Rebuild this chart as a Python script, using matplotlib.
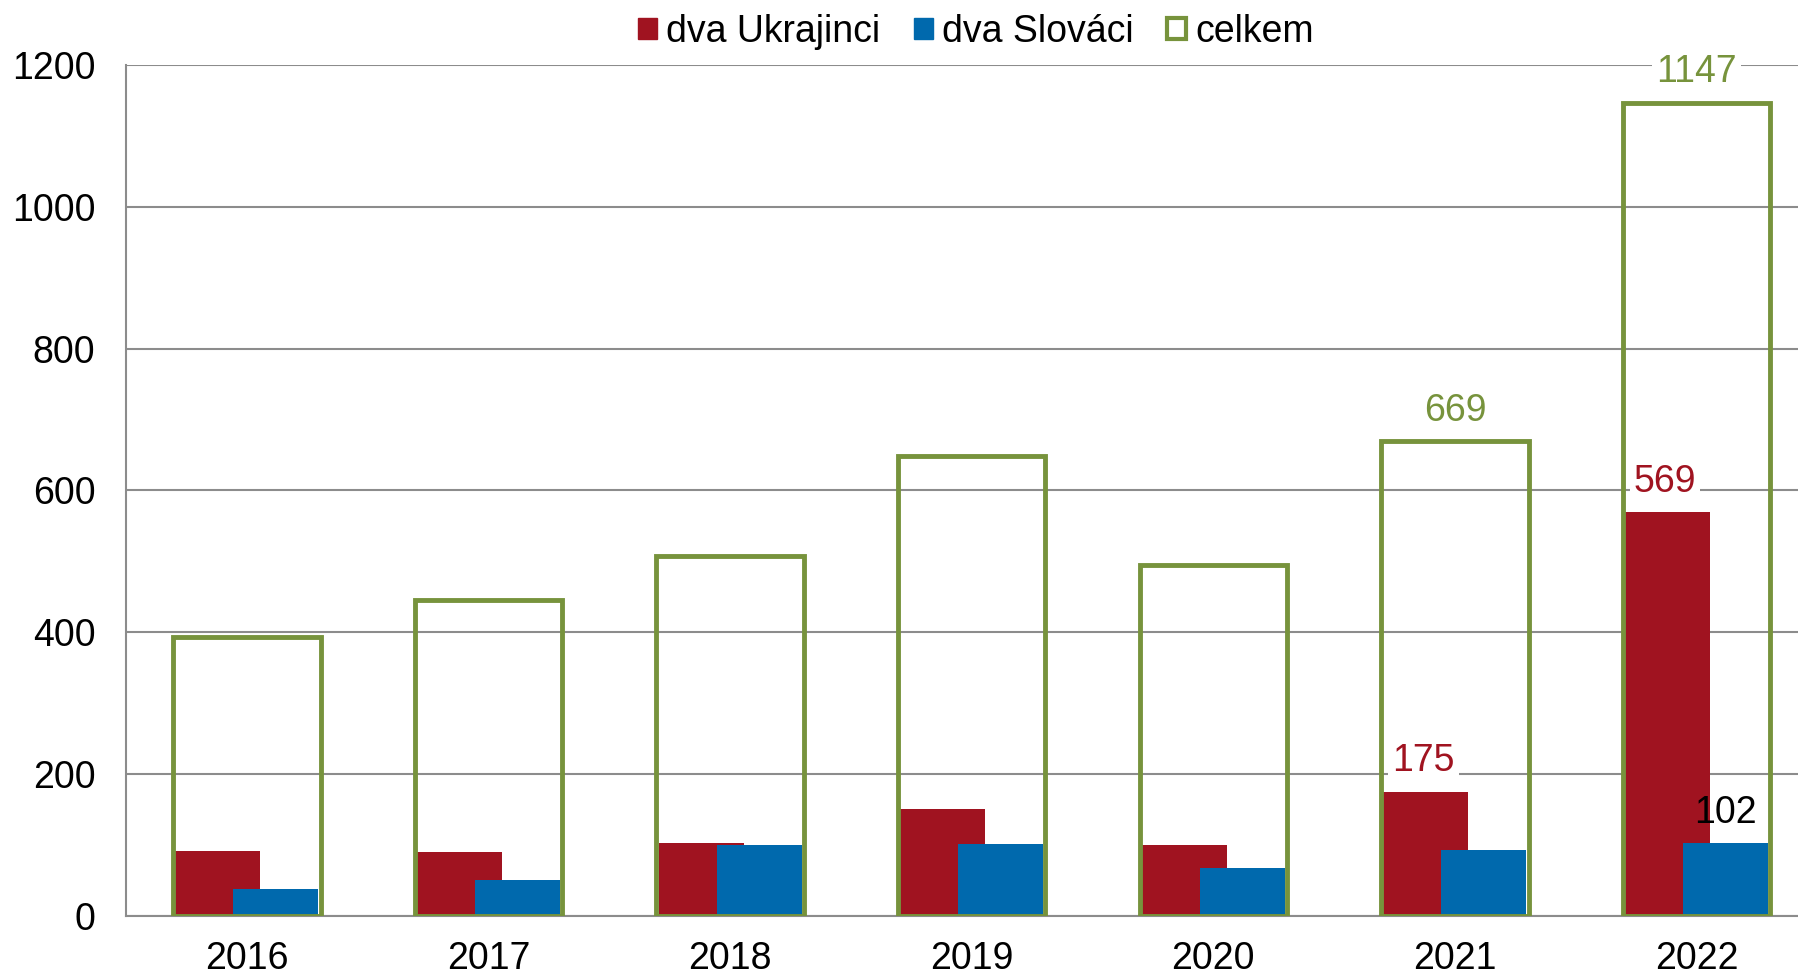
import matplotlib
matplotlib.use("Agg")
import matplotlib.pyplot as plt
from matplotlib.patches import Patch
import numpy as np

plt.rcParams['font.family'] = ['Liberation Sans', 'DejaVu Sans']

years = ['2016', '2017', '2018', '2019', '2020', '2021', '2022']
ukrajinci = [91, 90, 103, 150, 100, 175, 569]
slovaci = [38, 51, 100, 101, 67, 93, 102]
celkem = [393, 445, 508, 649, 495, 669, 1147]
yticks = [0, 200, 400, 600, 800, 1000, 1200]

RED = '#A01320'
BLUE = '#0069AD'
GREEN = '#77933C'
GRID = '#8C8C8C'
FS = 27

W, H = 1798, 975
fig = plt.figure(figsize=(W / 100, H / 100), dpi=100)
left = 126 / W
bottom = (H - 915.7) / H
top = 1 - 65 / H
ax = fig.add_axes([left, bottom, 1 - left, top - bottom])

x = np.arange(len(years))
bw = 0.352
off = 0.12
ax.bar(x - off, ukrajinci, width=bw, color=RED, zorder=2)
ax.bar(x + off, slovaci, width=bw, color=BLUE, zorder=2)
ax.bar(x, celkem, width=0.61, fill=False, edgecolor=GREEN, linewidth=3.5, zorder=3,
       joinstyle='miter')

ax.set_xlim(-0.5, 6.42)
ax.set_ylim(0, 1200)
ax.set_yticks(yticks)
ax.set_yticklabels([str(v) for v in yticks])
ax.set_xticks(x)
ax.set_xticklabels(years)
ax.tick_params(axis='both', length=0, labelsize=FS, colors='black')
ax.tick_params(axis='y', pad=22)
ax.tick_params(axis='x', pad=18)
ax.yaxis.grid(True, color=GRID, linewidth=1.5, zorder=0)
ax.set_axisbelow(True)
for s in ['top', 'right']:
    ax.spines[s].set_visible(False)
for s in ['left', 'bottom']:
    ax.spines[s].set_color(GRID)
    ax.spines[s].set_linewidth(1.5)
    ax.spines[s].set_zorder(1)

bb = dict(facecolor='white', edgecolor='none', pad=3)
lbl_off = 43
ax.text(x[5] - off - 0.01, ukrajinci[5] + lbl_off, str(ukrajinci[5]), color=RED, fontsize=FS,
        ha='center', va='center', bbox=bb, zorder=4)
ax.text(x[6] - off - 0.01, ukrajinci[6] + lbl_off, str(ukrajinci[6]), color=RED, fontsize=FS,
        ha='center', va='center', bbox=bb, zorder=4)
ax.text(x[6] + off, slovaci[6] + lbl_off, str(slovaci[6]), color='black', fontsize=FS,
        ha='center', va='center', zorder=4)
ax.text(x[5], celkem[5] + lbl_off, str(celkem[5]), color=GREEN, fontsize=FS,
        ha='center', va='center', bbox=bb, zorder=4)
ax.text(x[6], celkem[6] + lbl_off, str(celkem[6]), color=GREEN, fontsize=FS,
        ha='center', va='center', bbox=bb, zorder=4)

handles = [Patch(facecolor=RED, edgecolor=RED),
           Patch(facecolor=BLUE, edgecolor=BLUE),
           Patch(facecolor='white', edgecolor=GREEN, linewidth=3)]
fig.legend(handles, ['dva Ukrajinci', 'dva Slováci', 'celkem'], loc='center',
           bbox_to_anchor=(976 / W, 1 - 32 / H), ncol=3, frameon=False, fontsize=FS,
           handlelength=0.5, handleheight=0.5, handletextpad=0.25, columnspacing=0.9,
           borderpad=0)

fig.savefig('out.png', dpi=100)
